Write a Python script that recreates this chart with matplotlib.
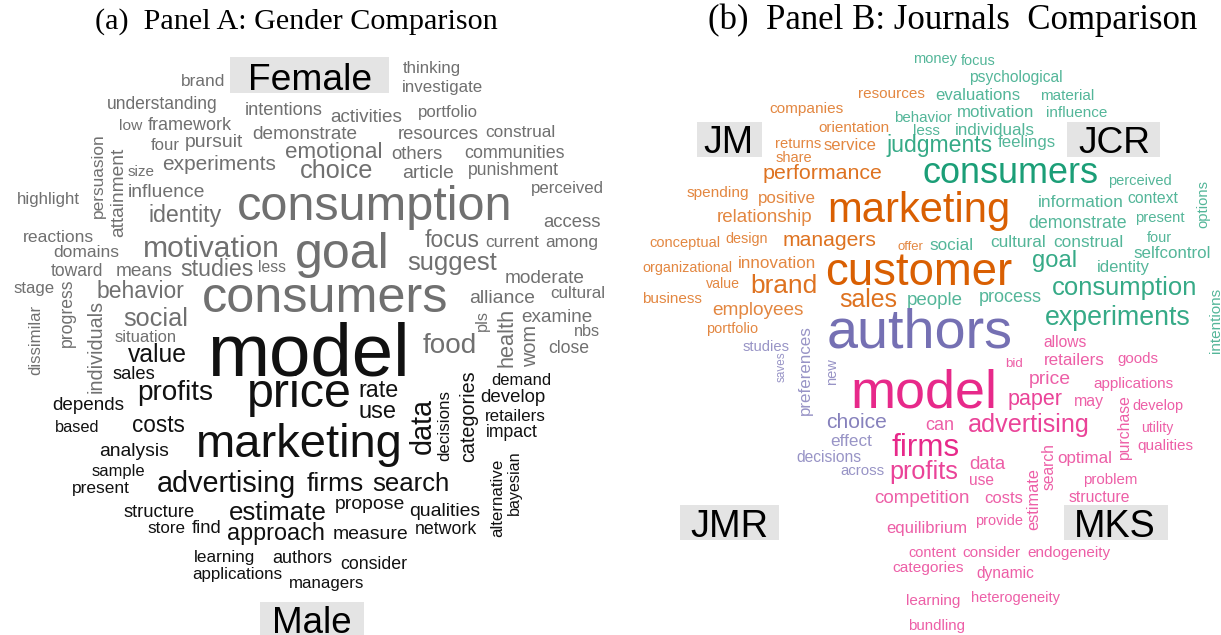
import matplotlib
matplotlib.use("Agg")
import matplotlib.pyplot as plt
from matplotlib.patches import Rectangle
from matplotlib.colors import to_rgb

W, H = 1221, 635

# ---------------- DATA ----------------
titles = ["(a)  Panel A: Gender Comparison", "(b)  Panel B: Journals  Comparison"]
labels_A = ["Female", "Male"]
labels_B = ["JM", "JCR", "JMR", "MKS"]

# Panel A words (gray = female-leaning, black = male-leaning)
A_female_words = ["brand", "thinking", "investigate", "understanding", "intentions", "activities",
                  "portfolio", "low", "framework", "demonstrate", "resources", "construal", "four",
                  "pursuit", "emotional", "others", "communities", "experiments", "choice", "article",
                  "punishment", "size", "influence", "perceived", "highlight", "consumption", "identity",
                  "access", "reactions", "focus", "current", "among", "domains", "motivation", "goal",
                  "less", "suggest", "toward", "means", "studies", "moderate", "stage", "behavior",
                  "cultural", "alliance", "consumers", "examine", "social", "nbs", "situation", "food",
                  "close"]
A_female_vwords = ["persuasion", "attainment", "progress", "dissimilar", "individuals", "pls",
                   "health", "wom"]
A_male_words = ["value", "sales", "model", "rate", "profits", "price", "depends", "use", "demand",
                "develop", "retailers", "impact", "based", "costs", "marketing", "analysis", "sample",
                "present", "advertising", "firms", "search", "structure", "estimate", "propose",
                "qualities", "store", "find", "approach", "measure", "network", "learning", "authors",
                "consider", "applications", "managers"]
A_male_vwords = ["data", "decisions", "categories", "alternative", "bayesian"]

# Panel B words by journal
B_JCR_words = ["money", "focus", "psychological", "evaluations", "material", "behavior", "motivation",
               "influence", "less", "individuals", "judgments", "feelings", "consumers", "perceived",
               "information", "context", "demonstrate", "present", "social", "cultural", "construal",
               "four", "selfcontrol", "goal", "identity", "consumption", "people", "process",
               "experiments"]
B_JCR_vwords = ["options", "intentions"]
B_JM_words = ["resources", "companies", "orientation", "returns", "service", "share", "performance",
              "spending", "positive", "marketing", "relationship", "conceptual", "design", "managers",
              "offer", "organizational", "innovation", "customer", "value", "brand", "business",
              "sales", "employees", "portfolio"]
B_JMR_words = ["authors", "studies", "choice", "effect", "decisions", "across"]
B_JMR_vwords = ["saves", "preferences", "new"]
B_MKS_words = ["allows", "bid", "retailers", "goods", "model", "price", "applications", "paper", "may",
               "develop", "can", "advertising", "utility", "qualities", "firms", "optimal", "data",
               "profits", "use", "problem", "competition", "costs", "structure", "provide",
               "equilibrium", "content", "consider", "endogeneity", "categories", "dynamic",
               "heterogeneity", "learning", "bundling"]
B_MKS_vwords = ["purchase", "estimate", "search"]

# ---------------- LAYOUT (pixel boxes: x_left, x_right, baseline / x_center, y_top, y_bottom) -----
title_layout = [(95, 498, 29), (708, 1197, 29)]
labelA_box = [(230, 57, 159, 36), (260, 602, 104, 33)]
labelA_txt = [(248, 372, 90), (272, 352, 633)]
labelB_box = [(697, 122, 65, 35), (1067, 122, 93, 35), (680, 505, 99, 35), (1064, 505, 104, 35)]
labelB_txt = [(703, 753, 153), (1078, 1150, 153), (690, 768, 537), (1074, 1156, 537)]

A_female_pos = [(181, 225, 86), (403, 461, 73), (402, 483, 92), (107, 218, 109), (245, 323, 115),
                (330, 402, 122), (418, 478, 117), (119, 142, 130), (148, 232, 130), (252, 357, 139),
                (398, 479, 139), (485, 555, 137), (151, 180, 150), (185, 243, 147), (285, 382, 158),
                (391, 442, 159), (464, 564, 158), (162, 276, 170), (300, 373, 178), (402, 454, 178),
                (468, 559, 175), (128, 155, 176), (128, 205, 197), (531, 604, 193), (17, 80, 204),
                (237, 513, 220), (148, 221, 222), (543, 600, 227), (23, 94, 242), (425, 480, 247),
                (485, 539, 247), (545, 598, 247), (53, 119, 257), (143, 280, 257), (295, 390, 268),
                (258, 286, 272), (407, 497, 270), (51, 104, 276), (116, 173, 276), (180, 253, 276),
                (505, 585, 283), (13, 54, 293), (97, 185, 298), (550, 605, 298), (469, 535, 303),
                (202, 448, 312), (521, 592, 322), (123, 188, 326), (574, 600, 336), (115, 177, 342),
                (423, 477, 353), (548, 589, 353)]
A_female_vpos = [(98, 133, 218), (119, 148, 237), (67, 278, 347), (36, 305, 375), (96, 300, 393),
                 (482, 310, 331), (507, 308, 367), (531, 325, 367)]
A_male_pos = [(128, 187, 362), (113, 156, 379), (207, 410, 375), (358, 398, 397), (137, 213, 400),
              (247, 352, 407), (52, 124, 410), (359, 397, 418), (491, 551, 385), (480, 545, 402),
              (485, 546, 421), (486, 538, 437), (55, 100, 432), (132, 185, 432), (196, 403, 457),
              (99, 169, 456), (92, 145, 476), (72, 130, 493), (157, 296, 492), (307, 364, 491),
              (372, 449, 491), (124, 195, 517), (229, 327, 520), (335, 405, 509), (409, 480, 516),
              (147, 185, 533), (192, 222, 533), (227, 325, 540), (333, 409, 539), (415, 477, 534),
              (194, 255, 562), (272, 332, 563), (340, 407, 569), (192, 282, 579), (289, 364, 588)]
A_male_vpos = [(423, 398, 454), (445, 390, 461), (469, 370, 462), (498, 459, 537), (514, 450, 515)]

B_JCR_pos = [(913, 957, 63), (961, 996, 65), (969, 1063, 82), (935, 1020, 100), (1040, 1094, 100),
             (894, 952, 122), (957, 1034, 117), (1046, 1107, 117), (913, 940, 135), (955, 1035, 135),
             (886, 992, 152), (998, 1056, 147), (922, 1098, 183), (1108, 1172, 185), (1038, 1124, 207),
             (1127, 1178, 203), (1028, 1127, 228), (1135, 1185, 222), (929, 973, 250), (990, 1046, 247),
             (1053, 1123, 247), (1147, 1172, 242), (1133, 1210, 258), (1032, 1077, 267),
             (1097, 1150, 272), (1052, 1197, 295), (907, 963, 305), (979, 1042, 302), (1045, 1191, 325)]
B_JCR_vpos = [(1203, 180, 228), (1216, 288, 353)]
B_JM_pos = [(858, 925, 98), (769, 843, 113), (818, 889, 132), (775, 821, 148), (824, 877, 150),
            (776, 813, 162), (763, 883, 179), (687, 749, 197), (758, 816, 203), (827, 1010, 222),
            (717, 813, 222), (649, 720, 247), (725, 768, 243), (783, 877, 246), (897, 923, 250),
            (642, 732, 272), (738, 816, 268), (825, 1012, 285), (706, 740, 288), (750, 817, 293),
            (642, 702, 303), (839, 897, 307), (712, 803, 315), (706, 758, 333)]
B_JMR_pos = [(827, 1013, 347), (743, 790, 351), (826, 887, 428), (830, 872, 446), (796, 861, 462),
             (840, 884, 475)]
B_JMR_vpos = [(782, 352, 382), (805, 325, 415), (832, 358, 385)]
B_MKS_pos = [(1043, 1087, 347), (1005, 1023, 367), (1044, 1105, 365), (1117, 1158, 363),
             (850, 997, 408), (1029, 1071, 384), (1093, 1173, 388), (1008, 1063, 405),
             (1074, 1104, 406), (1132, 1183, 410), (925, 954, 430), (968, 1089, 432),
             (1141, 1173, 432), (1137, 1193, 450), (892, 960, 456), (1057, 1112, 463),
             (969, 1005, 469), (889, 958, 479), (969, 994, 485), (1083, 1137, 484), (874, 970, 503),
             (984, 1023, 503), (1069, 1130, 502), (975, 1023, 525), (886, 967, 533), (908, 956, 557),
             (962, 1020, 557), (1027, 1110, 557), (892, 963, 572), (976, 1034, 578), (971, 1060, 602),
             (906, 960, 605), (908, 965, 630)]
B_MKS_vpos = [(1125, 395, 460), (1034, 468, 530), (1049, 443, 490)]

# ---------------- STYLE ----------------
SANS = "Liberation Sans"
SERIF = "Liberation Serif"
gray_A, black_A = "#707070", "#111111"
col_JCR, col_JM, col_JMR, col_MKS = "#1b9e77", "#d95f02", "#7570b3", "#e7298a"
box_col = "#e4e4e4"

fig = plt.figure(figsize=(W / 100, H / 100), dpi=100)
ax = fig.add_axes([0, 0, 1, 1])
ax.set_xlim(0, W)
ax.set_ylim(H, 0)
ax.axis("off")
renderer = fig.canvas.get_renderer()


def soften(color, fs):
    # smaller words in the reference look lighter (blur)
    r, g, b = to_rgb(color)
    k = 0.0 if fs >= 22 else (0.12 if fs >= 14 else 0.25)
    return (r + (1 - r) * k, g + (1 - g) * k, b + (1 - b) * k)


def fit_h(word, box, color, family=SANS, soft=False):
    x0, x1, yb = box
    t = ax.text(x0, yb, word, fontsize=10, ha="left", va="baseline", family=family, color=color)
    for _ in range(2):
        w = t.get_window_extent(renderer).width
        t.set_fontsize(t.get_fontsize() * (x1 - x0) / w)
    if soft:
        t.set_color(soften(color, t.get_fontsize()))
    return t


def fit_v(word, box, color, family=SANS, soft=False):
    xc, y0, y1 = box
    t = ax.text(xc, (y0 + y1) / 2, word, fontsize=10, rotation=90, ha="center", va="center",
                family=family, color=color)
    for _ in range(2):
        h = t.get_window_extent(renderer).height
        t.set_fontsize(t.get_fontsize() * (y1 - y0) / h)
    if soft:
        t.set_color(soften(color, t.get_fontsize()))
    return t


# titles
for txt, box in zip(titles, title_layout):
    fit_h(txt, box, "black", family=SERIF)

# label boxes
for (x, y, w, h) in labelA_box + labelB_box:
    ax.add_patch(Rectangle((x, y), w, h, facecolor=box_col, edgecolor="none", zorder=0))
for txt, box in zip(labels_A, labelA_txt):
    fit_h(txt, box, "black")
for txt, box in zip(labels_B, labelB_txt):
    fit_h(txt, box, "black")

# Panel A
for wd, box in zip(A_female_words, A_female_pos):
    fit_h(wd, box, gray_A)
for wd, box in zip(A_female_vwords, A_female_vpos):
    fit_v(wd, box, gray_A)
for wd, box in zip(A_male_words, A_male_pos):
    fit_h(wd, box, black_A)
for wd, box in zip(A_male_vwords, A_male_vpos):
    fit_v(wd, box, black_A)

# Panel B
for words, poss, col in [(B_JCR_words, B_JCR_pos, col_JCR), (B_JM_words, B_JM_pos, col_JM),
                         (B_JMR_words, B_JMR_pos, col_JMR), (B_MKS_words, B_MKS_pos, col_MKS)]:
    for wd, box in zip(words, poss):
        fit_h(wd, box, col, soft=True)
for words, poss, col in [(B_JCR_vwords, B_JCR_vpos, col_JCR), (B_JMR_vwords, B_JMR_vpos, col_JMR),
                         (B_MKS_vwords, B_MKS_vpos, col_MKS)]:
    for wd, box in zip(words, poss):
        fit_v(wd, box, col, soft=True)

fig.savefig("out.png", dpi=100)
